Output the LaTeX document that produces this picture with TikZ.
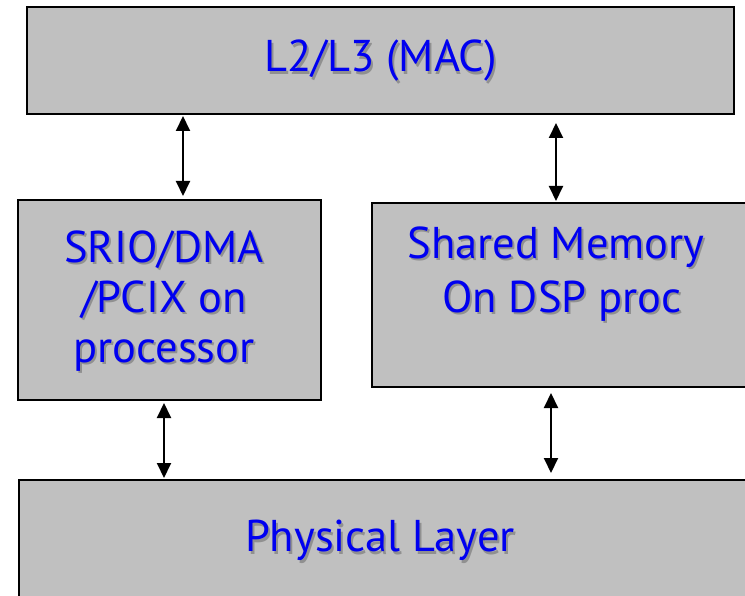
\documentclass[tikz,border=0pt]{standalone}
\usepackage{fontspec}
\setmainfont{PT Sans}
\usetikzlibrary{arrows.meta}
\definecolor{boxgray}{HTML}{C0C0C0}
\definecolor{labelblue}{HTML}{0000F0}
\definecolor{shadowgray}{HTML}{909090}
% blue text with a soft grey drop shadow behind it
\newcommand{\shtxt}[1]{\makebox[0pt][l]{\hspace{2pt}\raisebox{-2.5pt}{\color{shadowgray}#1}}{\color{labelblue}#1}}
\tikzset{
  layerbox/.style={draw=black, line width=2pt, fill=boxgray, inner sep=0pt},
  layertext/.style={font=\fontsize{44.5}{50}\selectfont, align=center, inner sep=0pt},
  link/.style={line width=2pt, {Triangle[length=15pt,width=14pt]}-{Triangle[length=15pt,width=14pt]}},
}
\begin{document}
\begin{tikzpicture}[x=1pt,y=-1pt]
  \useasboundingbox (0,0) rectangle (745,596);
  \begin{scope}
    \clip (0,0) rectangle (745,596);
    % the four blocks
    \node[layerbox, minimum width=707pt, minimum height=107pt] (mac) at (380.5,60.5) {};
    \node[layerbox, minimum width=303pt, minimum height=200pt] (srio) at (169.5,300) {};
    \node[layerbox, minimum width=390pt, minimum height=184pt] (shm) at (567,295) {};
    \node[layerbox, minimum width=745pt, minimum height=130pt] (phy) at (391.5,545) {};
    % labels
    \node[layertext] (macT) at (380.5,62) {\shtxt{L2/L3 (MAC)}};
    \node[layertext] (srioT) at (164,302) {\shtxt{SRIO/DMA}\\\shtxt{/PCIX on}\\\shtxt{processor}};
    \node[layertext, font=\fontsize{44.5}{54}\selectfont] (shmT) at (556,275) {\shtxt{Shared Memory}\\\shtxt{\ On DSP proc}};
    \node[layertext] (phyT) at (380,542) {\shtxt{Physical Layer}};
    % links between the blocks
    \coordinate (xa) at (183,0);
    \coordinate (xb) at (556,0);
    \coordinate (xc) at (164,0);
    \coordinate (xd) at (551,0);
    \draw[link] ([yshift=-1pt]mac.south -| xa) -- ([yshift=3pt]srio.north -| xa);
    \draw[link] ([yshift=-8pt]mac.south -| xb) -- ([yshift=1pt]shm.north -| xb);
    \draw[link] ([yshift=-2pt]srio.south -| xc) -- ([yshift=1pt]phy.north -| xc);
    \draw[link] ([yshift=-5pt]shm.south -| xd) -- ([yshift=6pt]phy.north -| xd);
  \end{scope}
\end{tikzpicture}
\end{document}
